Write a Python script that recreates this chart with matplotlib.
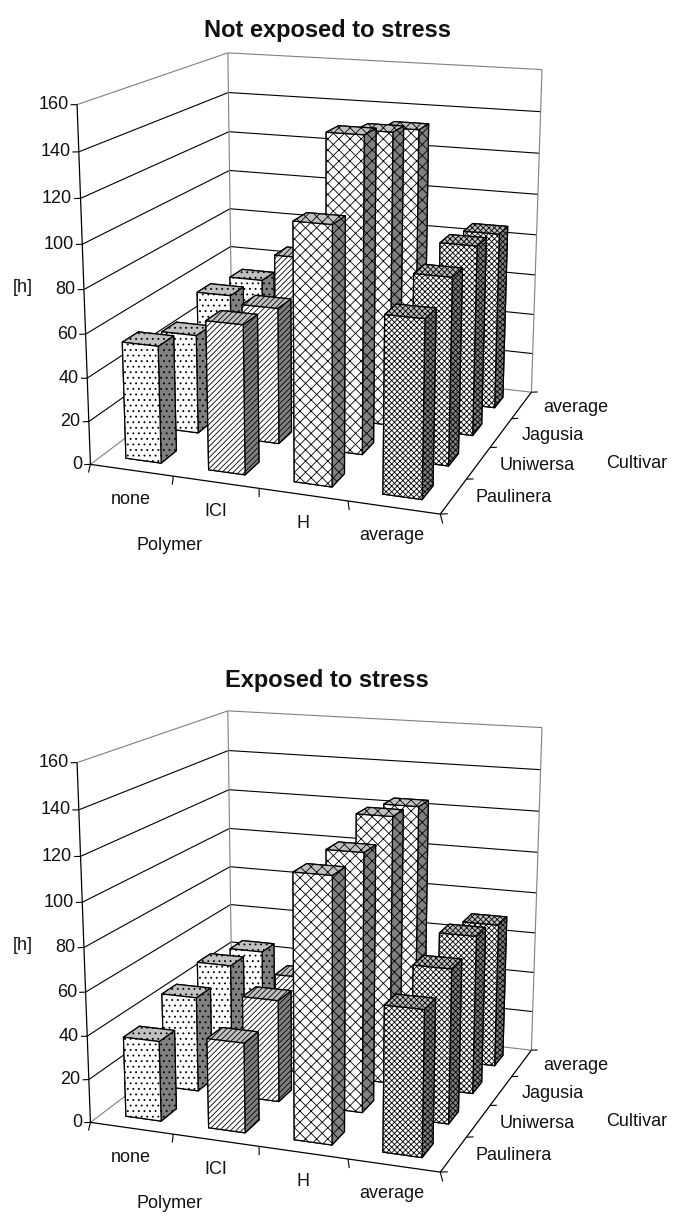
import numpy as np
import matplotlib
matplotlib.use('Agg')
import matplotlib.pyplot as plt
from mpl_toolkits.mplot3d import proj3d

plt.rcParams['font.family'] = ['Liberation Sans', 'DejaVu Sans']
plt.rcParams['hatch.linewidth'] = 0.6

polymers = ['none', 'ICI', 'H', 'average']
cultivars = ['Paulinera', 'Uniwersa', 'Jagusia', 'average']
yticks = [0, 20, 40, 60, 80, 100, 120, 140, 160]

# rows follow polymers, columns follow cultivars
not_exposed = [[54, 47, 55, 52],
               [68, 64, 77, 62],
               [115, 145, 139, 133],
               [79, 86, 90, 86]]
exposed = [[37, 45, 49, 45],
           [41, 48, 47, 44],
           [118, 119, 127, 124],
           [65, 71, 75, 70]]
hatches = ['...', '//////', 'xxx', 'xxxxxx']

WIDTH, HEIGHT = 673, 1216
BAR_W, BAR_D = 0.43, 0.40

# camera fitted to the corners of the reference box
ELEV, AZIM = 15, -70
FOCAL = 0.535
ZOOM = 1.843 * FOCAL
SCALE, TX, TY = 1735.6 / FOCAL, 323.5, 955.4


def put_text(px, py, s, **kw):
    return plt.figtext(px / WIDTH, 1 - py / HEIGHT, s, color='#111111', **kw)


def line3d(ax, a, b, color='k', lw=0.8, z=0):
    ax.plot([a[0], b[0]], [a[1], b[1]], [a[2], b[2]], color=color, lw=lw, zorder=z,
            solid_capstyle='butt')


def draw_panel(fig, title, title_y, values, dy):
    ax = fig.add_subplot(projection='3d', computed_zorder=False)
    x0, x1 = ax.viewLim.intervalx
    y0, y1 = ax.viewLim.intervaly
    left = TX + SCALE * x0
    bottom = TY - dy + SCALE * y0
    ax.set_position([left / WIDTH, bottom / HEIGHT,
                     SCALE * (x1 - x0) / WIDTH, SCALE * (y1 - y0) / HEIGHT])
    ax.set_axis_off()
    ax.patch.set_alpha(0)
    ax.set_box_aspect((1, 1, 1), zoom=ZOOM)
    ax.view_init(ELEV, AZIM, 0)
    ax.set_proj_type('persp', focal_length=FOCAL)

    nx, ny, top = len(polymers), len(cultivars), yticks[-1]

    # walls
    for t in yticks:
        col = '#808080' if t == top or t == 0 else 'k'
        line3d(ax, (0, 0, t), (0, ny, t), col)
        line3d(ax, (0, ny, t), (nx, ny, t), col)
    line3d(ax, (0, ny, 0), (0, ny, top), '#808080')
    line3d(ax, (nx, ny, 0), (nx, ny, top), '#808080')

    # axes and ticks
    line3d(ax, (0, 0, 0), (0, 0, top), 'k', 0.9, 1)
    line3d(ax, (0, 0, 0), (nx, 0, 0), 'k', 0.9, 1)
    line3d(ax, (nx, 0, 0), (nx, ny, 0), 'k', 0.9, 1)
    for t in yticks:
        line3d(ax, (0, 0, t), (-0.06, -0.03, t), 'k', 0.8, 1)
    for i in range(nx + 1):
        line3d(ax, (i, 0, 0), (i + 0.09, -0.22, 0), 'k', 0.8, 1)
    for j in range(ny + 1):
        line3d(ax, (nx, j, 0), (nx + 0.07, j + 0.035, 0), 'k', 0.8, 1)

    # bars, back row first
    order = 2
    for j in range(ny - 1, -1, -1):
        for i in range(nx):
            ax.bar3d(i + 0.5 - BAR_W / 2, j + 0.5 - BAR_D / 2, 0, BAR_W, BAR_D, values[i][j],
                     color=['white', '#c0c0c0', 'white', 'white', 'white', '#808080'],
                     edgecolor='k', linewidth=0.9, shade=False, hatch=hatches[i], zorder=order)
            order += 1

    ax.set_xlim(0, nx)
    ax.set_ylim(0, ny)
    ax.set_zlim(0, top)

    # value axis labels sit at the projected tick ends
    M = ax.get_proj()
    for t in yticks:
        xp, yp, _ = proj3d.proj_transform(-0.06, -0.03, t, M)
        ax.annotate(str(t), xy=(xp, yp), xytext=(-1.5, 0), textcoords='offset points',
                    fontsize=13, ha='right', va='center', color='#111111', annotation_clip=False)

    # remaining text, placed in picture pixels
    put_text(327, title_y, title, fontsize=17, fontweight='bold', ha='center', va='center')
    put_text(23, 287 + dy, '[h]', fontsize=13, ha='center', va='center')
    for name, px, py in zip(polymers, [131, 216, 303, 392], [498, 509, 521, 534]):
        put_text(px, py + dy + 2, name, fontsize=13, ha='center', va='center')
    put_text(170, 545 + dy, 'Polymer', fontsize=13, ha='center', va='center')
    for name, px, py in zip(cultivars, [475, 500, 522, 543], [496, 465, 435, 406]):
        put_text(px, py + dy + 1, name, fontsize=13, ha='left', va='center')
    put_text(606, 464 + dy, 'Cultivar', fontsize=13, ha='left', va='center')


fig = plt.figure(figsize=(WIDTH / 100, HEIGHT / 100), dpi=100)
draw_panel(fig, 'Not exposed to stress', 30, not_exposed, 0)
draw_panel(fig, 'Exposed to stress', 680, exposed, 658)
fig.savefig('out.png', dpi=100)
